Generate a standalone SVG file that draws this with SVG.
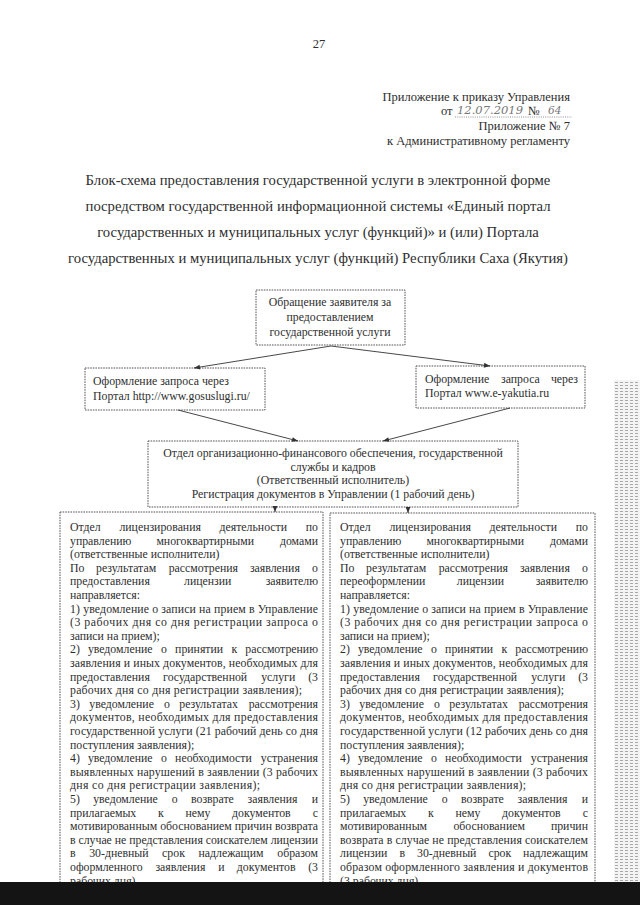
<svg xmlns="http://www.w3.org/2000/svg" width="640" height="905" viewBox="0 0 640 905">
<defs>
<style>
.t{font-family:"Liberation Serif","Times New Roman",serif;fill:#2e2e2e}
.b{font-size:11.8px}
.h{font-size:12.5px}
.ti{font-size:14.7px}
.c{text-anchor:middle}
.e{text-anchor:end}
.box{fill:none;stroke:#555;stroke-width:1;stroke-dasharray:1.6 1}
.con{fill:none;stroke:#333;stroke-width:0.9}
.hw{font-family:"DejaVu Serif",serif;font-style:italic;fill:#777;font-size:10.5px}
</style>
<marker id="ah" viewBox="0 0 10 10" refX="10" refY="5" markerWidth="7" markerHeight="6" markerUnits="userSpaceOnUse" orient="auto">
<path d="M0,1 L10,5 L0,9 z" fill="#333"/>
</marker>
<pattern id="scan" width="5" height="3" patternUnits="userSpaceOnUse">
<rect width="5" height="3" fill="#f4f4f4"/>
<path d="M0,1.5 H3" stroke="#a8a8a8" stroke-width="1"/>
</pattern>
</defs>
<rect width="640" height="905" fill="#fff"/>

<g id="header" class="t h">
<text class="c" x="319" y="48">27</text>
<text class="e" x="570" y="101">Приложение к приказу Управления</text>
<text x="441" y="115">от</text>
<text class="hw" x="457" y="114" textLength="66" lengthAdjust="spacingAndGlyphs">12.07.2019</text>
<text x="528" y="115">№</text>
<text class="hw" x="548" y="114">64</text>
<line x1="455" y1="117" x2="572" y2="117" stroke="#777" stroke-width="0.8" stroke-dasharray="1 1.2"/>
<text class="e" x="570" y="130">Приложение № 7</text>
<text class="e" x="570" y="145">к Административному регламенту</text>
</g>

<g id="title" class="t ti c">
<text x="318" y="185">Блок-схема предоставления государственной услуги в электронной форме</text>
<text x="318" y="211">посредством государственной информационной системы «Единый портал</text>
<text x="318" y="237">государственных и муниципальных услуг (функций)» и (или) Портала</text>
<text x="318" y="263">государственных и муниципальных услуг (функций) Республики Саха (Якутия)</text>
</g>

<g id="node-request" class="t b">
<rect class="box" x="256" y="290" width="149" height="55"/>
<text class="c" x="330" y="306">Обращение заявителя за</text>
<text class="c" x="330" y="321">предоставлением</text>
<text class="c" x="330" y="336">государственной услуги</text>
</g>

<g id="node-gosuslugi" class="t b">
<rect class="box" x="85" y="368" width="180" height="42"/>
<text x="93" y="385">Оформление запроса через</text>
<text x="93" y="400">Портал http://www.gosuslugi.ru/</text>
</g>

<g id="node-eyakutia" class="t b">
<rect class="box" x="416" y="366" width="169" height="42"/>
<text y="383"><tspan x="425">Оформление</tspan><tspan x="501">запроса</tspan></text>
<text class="e" x="578" y="383">через</text>
<text x="425" y="397">Портал www.e-yakutia.ru</text>
</g>

<g id="node-registration" class="t b">
<rect class="box" x="148" y="441" width="370" height="66"/>
<text class="c" x="333" y="457">Отдел организационно-финансового обеспечения, государственной</text>
<text class="c" x="333" y="470.7">службы и кадров</text>
<text class="c" x="333" y="484.4">(Ответственный исполнитель)</text>
<text class="c" x="333" y="498">Регистрация документов в Управлении (1 рабочий день)</text>
</g>

<g id="node-left-column" class="t b">
<rect class="box" x="60" y="512" width="263" height="380"/>
<text y="531"><tspan x="70">Отдел</tspan><tspan x="119.4">лицензирования</tspan><tspan x="219.5">деятельности</tspan></text><text class="e" x="318" y="531">по</text>
<text y="544.6"><tspan x="70">управлению</tspan><tspan x="156.4">многоквартирными</tspan></text><text class="e" x="318" y="544.6">домами</text>
<text x="70" y="558.2">(ответственные исполнители)</text>
<text y="571.8"><tspan x="70">По</tspan><tspan x="96">результатам</tspan><tspan x="168.7">рассмотрения</tspan><tspan x="249.9">заявления</tspan></text><text class="e" x="318" y="571.8">о</text>
<text y="585.4"><tspan x="70">предоставления</tspan><tspan x="184">лицензии</tspan></text><text class="e" x="318" y="585.4">заявителю</text>
<text x="70" y="599">направляется:</text>
<text x="70" y="612.6" textLength="248" lengthAdjust="spacing">1) уведомление о записи на прием в Управление</text>
<text x="70" y="626.2" textLength="248" lengthAdjust="spacing">(3 рабочих дня со дня регистрации запроса о</text>
<text x="70" y="639.8">записи на прием);</text>
<text y="653.4"><tspan x="70">2)</tspan><tspan x="87.9">уведомление</tspan><tspan x="161.1">о</tspan><tspan x="175.1">принятии</tspan><tspan x="231.6">к</tspan></text><text class="e" x="318" y="653.4">рассмотрению</text>
<text x="70" y="667" textLength="248" lengthAdjust="spacing">заявления и иных документов, необходимых для</text>
<text y="680.6"><tspan x="70">предоставления</tspan><tspan x="163.1">государственной</tspan><tspan x="261.2">услуги</tspan></text><text class="e" x="318" y="680.6">(3</text>
<text x="70" y="694.2" textLength="232" lengthAdjust="spacing">рабочих дня со дня регистрации заявления);</text>
<text y="707.8"><tspan x="70">3)</tspan><tspan x="89.3">уведомление</tspan><tspan x="163.9">о</tspan><tspan x="179.3">результатах</tspan></text><text class="e" x="318" y="707.8">рассмотрения</text>
<text x="70" y="721.4" textLength="248" lengthAdjust="spacing">документов, необходимых для предоставления</text>
<text x="70" y="735" textLength="248" lengthAdjust="spacing">государственной услуги (21 рабочий день со дня</text>
<text x="70" y="748.6">поступления заявления);</text>
<text y="762.2"><tspan x="70">4)</tspan><tspan x="87.9">уведомление</tspan><tspan x="161.1">о</tspan><tspan x="175.1">необходимости</tspan></text><text class="e" x="318" y="762.2">устранения</text>
<text x="70" y="775.8" textLength="248" lengthAdjust="spacing">выявленных нарушений в заявлении (3 рабочих</text>
<text x="70" y="789.4" textLength="190" lengthAdjust="spacing">дня со дня регистрации заявления);</text>
<text y="803"><tspan x="70">5)</tspan><tspan x="93.2">уведомление</tspan><tspan x="171.7">о</tspan><tspan x="191">возврате</tspan><tspan x="247.6">заявления</tspan></text><text class="e" x="318" y="803">и</text>
<text y="816.6"><tspan x="70">прилагаемых</tspan><tspan x="158">к</tspan><tspan x="185.4">нему</tspan><tspan x="232">документов</tspan></text><text class="e" x="318" y="816.6">с</text>
<text x="70" y="830.2" textLength="248" lengthAdjust="spacing">мотивированным обоснованием причин возврата</text>
<text x="70" y="843.8" textLength="248" lengthAdjust="spacing">в случае не представления соискателем лицензии</text>
<text y="857.4"><tspan x="70">в</tspan><tspan x="89.2">30-дневный</tspan><tspan x="162.1">срок</tspan><tspan x="198.5">надлежащим</tspan></text><text class="e" x="318" y="857.4">образом</text>
<text y="871"><tspan x="70">оформленного</tspan><tspan x="155.4">заявления</tspan><tspan x="218.3">и</tspan><tspan x="236.8">документов</tspan></text><text class="e" x="318" y="871">(3</text>
<text x="70" y="884.6">рабочих дня)</text>
</g>

<g id="node-right-column" class="t b">
<rect class="box" x="330" y="513" width="265" height="380"/>
<text y="531"><tspan x="340">Отдел</tspan><tspan x="389.4">лицензирования</tspan><tspan x="489.5">деятельности</tspan></text><text class="e" x="588" y="531">по</text>
<text y="544.6"><tspan x="340">управлению</tspan><tspan x="426.4">многоквартирными</tspan></text><text class="e" x="588" y="544.6">домами</text>
<text x="340" y="558.2">(ответственные исполнители)</text>
<text y="571.8"><tspan x="340">По</tspan><tspan x="366">результатам</tspan><tspan x="438.7">рассмотрения</tspan><tspan x="519.9">заявления</tspan></text><text class="e" x="588" y="571.8">о</text>
<text y="585.4"><tspan x="340">переоформлении</tspan><tspan x="456.8">лицензии</tspan></text><text class="e" x="588" y="585.4">заявителю</text>
<text x="340" y="599">направляется:</text>
<text x="340" y="612.6" textLength="248" lengthAdjust="spacing">1) уведомление о записи на прием в Управление</text>
<text x="340" y="626.2" textLength="248" lengthAdjust="spacing">(3 рабочих дня со дня регистрации запроса о</text>
<text x="340" y="639.8">записи на прием);</text>
<text y="653.4"><tspan x="340">2)</tspan><tspan x="357.9">уведомление</tspan><tspan x="431.1">о</tspan><tspan x="445.1">принятии</tspan><tspan x="501.6">к</tspan></text><text class="e" x="588" y="653.4">рассмотрению</text>
<text x="340" y="667" textLength="248" lengthAdjust="spacing">заявления и иных документов, необходимых для</text>
<text y="680.6"><tspan x="340">предоставления</tspan><tspan x="433.1">государственной</tspan><tspan x="531.2">услуги</tspan></text><text class="e" x="588" y="680.6">(3</text>
<text x="340" y="694.2" textLength="224" lengthAdjust="spacing">рабочих дня со дня регистрации заявления);</text>
<text y="707.8"><tspan x="340">3)</tspan><tspan x="359.3">уведомление</tspan><tspan x="433.9">о</tspan><tspan x="449.3">результатах</tspan></text><text class="e" x="588" y="707.8">рассмотрения</text>
<text x="340" y="721.4" textLength="248" lengthAdjust="spacing">документов, необходимых для предоставления</text>
<text x="340" y="735" textLength="248" lengthAdjust="spacing">государственной услуги (12 рабочих день со дня</text>
<text x="340" y="748.6">поступления заявления);</text>
<text y="762.2"><tspan x="340">4)</tspan><tspan x="357.9">уведомление</tspan><tspan x="431.1">о</tspan><tspan x="445.1">необходимости</tspan></text><text class="e" x="588" y="762.2">устранения</text>
<text x="340" y="775.8" textLength="248" lengthAdjust="spacing">выявленных нарушений в заявлении (3 рабочих</text>
<text x="340" y="789.4" textLength="186" lengthAdjust="spacing">дня со дня регистрации заявления);</text>
<text y="803"><tspan x="340">5)</tspan><tspan x="363.2">уведомление</tspan><tspan x="441.7">о</tspan><tspan x="461">возврате</tspan><tspan x="517.6">заявления</tspan></text><text class="e" x="588" y="803">и</text>
<text y="816.6"><tspan x="340">прилагаемых</tspan><tspan x="428">к</tspan><tspan x="455.4">нему</tspan><tspan x="502">документов</tspan></text><text class="e" x="588" y="816.6">с</text>
<text y="830.2"><tspan x="340">мотивированным</tspan><tspan x="453.4">обоснованием</tspan></text><text class="e" x="588" y="830.2">причин</text>
<text x="340" y="843.8" textLength="248" lengthAdjust="spacing">возврата в случае не представления соискателем</text>
<text y="857.4"><tspan x="340">лицензии</tspan><tspan x="399.4">в</tspan><tspan x="417">30-дневный</tspan><tspan x="488.4">срок</tspan></text><text class="e" x="588" y="857.4">надлежащим</text>
<text x="340" y="871" textLength="248" lengthAdjust="spacing">образом оформленного заявления и документов</text>
<text x="340" y="884.6">(3 рабочих дня)</text>
</g>

<g id="connectors">
<line class="con" x1="331" y1="346" x2="194" y2="368" marker-end="url(#ah)"/>
<line class="con" x1="331" y1="346" x2="490" y2="366" marker-end="url(#ah)"/>
<line class="con" x1="178" y1="410" x2="298" y2="441" marker-end="url(#ah)"/>
<line class="con" x1="510" y1="408" x2="383" y2="441" marker-end="url(#ah)"/>
<line class="con" x1="275" y1="507" x2="275" y2="512" marker-end="url(#ah)"/>
<line class="con" x1="408" y1="507" x2="408" y2="513" marker-end="url(#ah)"/>
</g>

<rect x="614" y="380" width="26" height="502" fill="url(#scan)"/>
<rect x="0" y="882" width="640" height="23" fill="#141414"/>
</svg>
